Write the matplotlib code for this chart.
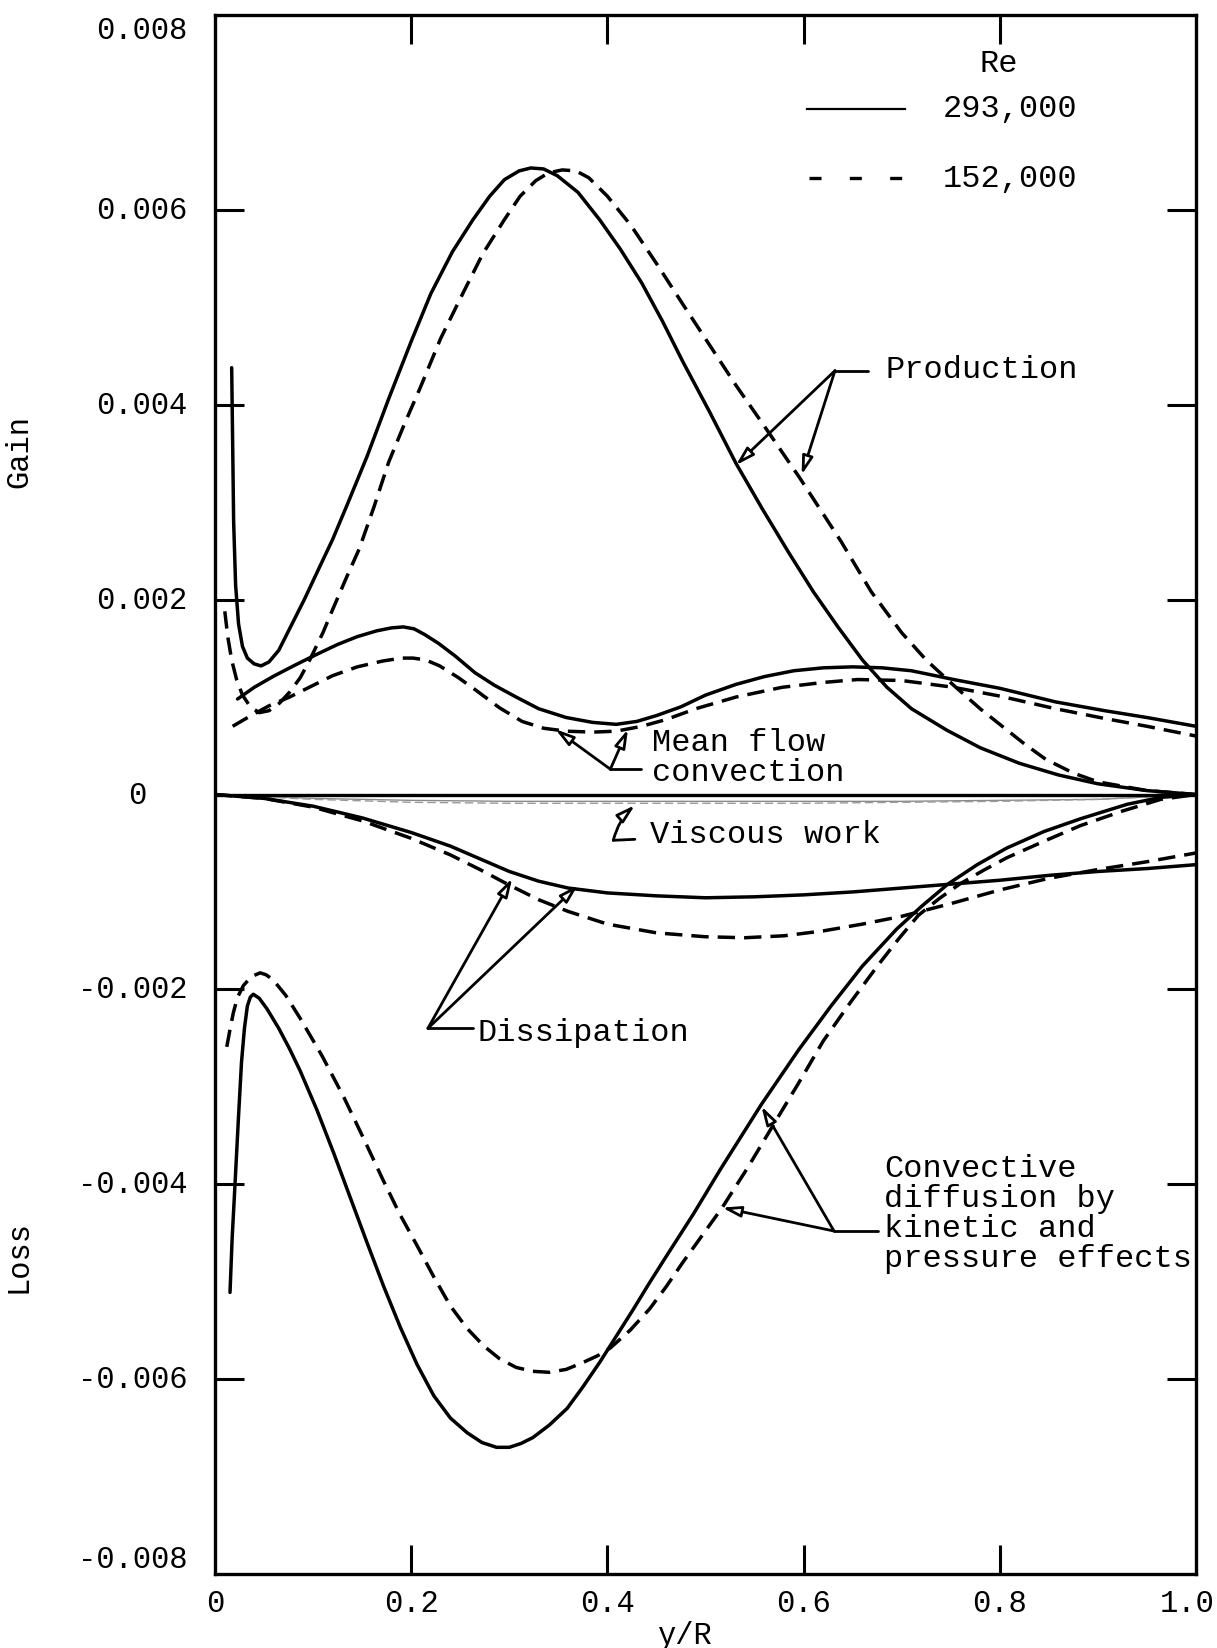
import matplotlib
matplotlib.use("Agg")
import matplotlib.pyplot as plt
import numpy as np
from matplotlib.transforms import blended_transform_factory

plt.rcParams['font.family'] = ['Liberation Mono', 'DejaVu Sans']

# ---------------- data (y values in units of 1e-3) ----------------
reynolds = ["293,000", "152,000"]

prod_293_x = [0.017, 0.018, 0.019, 0.021, 0.024, 0.028, 0.033, 0.040, 0.047, 0.055,
              0.065, 0.078, 0.091, 0.105, 0.120, 0.135, 0.155, 0.177, 0.200, 0.220,
              0.242, 0.263, 0.280, 0.295, 0.310, 0.322, 0.335, 0.349, 0.370, 0.392,
              0.413, 0.435, 0.456, 0.477, 0.504, 0.531, 0.558, 0.585, 0.610, 0.635,
              0.660, 0.685, 0.710, 0.746, 0.780, 0.820, 0.860, 0.900, 0.950, 1.000]
prod_293_y = [4.38, 3.60, 2.80, 2.15, 1.75, 1.52, 1.40, 1.34, 1.32, 1.36,
              1.48, 1.74, 2.00, 2.30, 2.62, 2.98, 3.47, 4.06, 4.65, 5.14,
              5.57, 5.90, 6.14, 6.31, 6.40, 6.43, 6.42, 6.35, 6.18, 5.90,
              5.60, 5.25, 4.86, 4.44, 3.93, 3.40, 2.93, 2.48, 2.08, 1.72,
              1.38, 1.10, 0.88, 0.66, 0.48, 0.32, 0.20, 0.11, 0.04, 0.00]

prod_152_x = [0.010, 0.013, 0.017, 0.022, 0.028, 0.036, 0.045, 0.055, 0.066, 0.076,
              0.087, 0.097, 0.110, 0.120, 0.135, 0.147, 0.162, 0.177, 0.193, 0.209,
              0.230, 0.252, 0.273, 0.295, 0.311, 0.327, 0.340, 0.354, 0.368, 0.381,
              0.400, 0.424, 0.450, 0.477, 0.505, 0.531, 0.560, 0.596, 0.638, 0.669,
              0.700, 0.725, 0.753, 0.780, 0.800, 0.825, 0.847, 0.875, 0.900, 0.950,
              1.000]
prod_152_y = [1.88, 1.62, 1.38, 1.18, 1.02, 0.90, 0.84, 0.86, 0.94, 1.05,
              1.20, 1.39, 1.66, 1.90, 2.25, 2.52, 2.95, 3.41, 3.80, 4.17,
              4.68, 5.13, 5.55, 5.90, 6.14, 6.30, 6.38, 6.41, 6.40, 6.33,
              6.14, 5.84, 5.45, 5.03, 4.60, 4.20, 3.78, 3.25, 2.60, 2.08,
              1.66, 1.38, 1.12, 0.88, 0.72, 0.52, 0.36, 0.22, 0.13, 0.04,
              0.00]

conv_293_x = [0.023, 0.040, 0.059, 0.080, 0.102, 0.125, 0.145, 0.165, 0.180, 0.192,
              0.203, 0.214, 0.228, 0.245, 0.265, 0.285, 0.307, 0.330, 0.358, 0.385,
              0.409, 0.430, 0.450, 0.475, 0.500, 0.531, 0.560, 0.590, 0.620, 0.650,
              0.680, 0.710, 0.753, 0.800, 0.857, 0.907, 0.950, 1.000]
conv_293_y = [0.98, 1.10, 1.21, 1.32, 1.43, 1.54, 1.62, 1.68, 1.71, 1.72,
              1.70, 1.64, 1.55, 1.42, 1.25, 1.12, 1.00, 0.88, 0.79, 0.74,
              0.72, 0.75, 0.81, 0.90, 1.02, 1.13, 1.21, 1.27, 1.30, 1.31,
              1.30, 1.27, 1.18, 1.09, 0.95, 0.86, 0.79, 0.70]

conv_152_x = [0.018, 0.035, 0.055, 0.076, 0.098, 0.120, 0.145, 0.171, 0.190, 0.202,
              0.215, 0.229, 0.248, 0.266, 0.290, 0.313, 0.335, 0.358, 0.385, 0.409,
              0.435, 0.460, 0.490, 0.531, 0.578, 0.620, 0.655, 0.700, 0.753, 0.800,
              0.857, 0.907, 0.950, 1.000]
conv_152_y = [0.70, 0.80, 0.91, 1.00, 1.11, 1.22, 1.31, 1.37, 1.40, 1.40,
              1.38, 1.32, 1.20, 1.07, 0.89, 0.75, 0.68, 0.65, 0.64, 0.65,
              0.70, 0.77, 0.88, 1.00, 1.10, 1.15, 1.18, 1.17, 1.10, 1.01,
              0.88, 0.78, 0.70, 0.60]

visc_x = [0.0, 0.1, 0.2, 0.3, 0.4, 0.5, 0.6, 0.7, 0.8, 0.9, 1.0]
visc_293_y = [0.0, -0.04, -0.06, -0.07, -0.07, -0.07, -0.07, -0.07, -0.06, -0.05, 0.0]
visc_152_y = [0.0, -0.05, -0.08, -0.09, -0.09, -0.09, -0.09, -0.08, -0.07, -0.05, 0.0]

diss_293_x = [0.0, 0.05, 0.10, 0.15, 0.20, 0.24, 0.27, 0.30, 0.33, 0.36,
              0.40, 0.45, 0.50, 0.55, 0.60, 0.65, 0.70, 0.75, 0.80, 0.85,
              0.90, 0.95, 1.0]
diss_293_y = [0.0, -0.04, -0.12, -0.24, -0.39, -0.53, -0.66, -0.79, -0.89, -0.96,
              -1.01, -1.04, -1.06, -1.05, -1.03, -1.00, -0.96, -0.92, -0.88, -0.83,
              -0.79, -0.76, -0.72]

diss_152_x = [0.0, 0.05, 0.10, 0.15, 0.20, 0.24, 0.27, 0.30, 0.33, 0.36,
              0.40, 0.45, 0.50, 0.54, 0.58, 0.62, 0.66, 0.70, 0.75, 0.80,
              0.85, 0.90, 0.95, 1.0]
diss_152_y = [0.0, -0.04, -0.13, -0.27, -0.45, -0.62, -0.77, -0.93, -1.08, -1.20,
              -1.33, -1.42, -1.46, -1.47, -1.45, -1.40, -1.33, -1.25, -1.12, -0.98,
              -0.86, -0.77, -0.69, -0.60]

cdiff_293_x = [0.0153, 0.0175, 0.0204, 0.024, 0.027, 0.030, 0.033, 0.036, 0.039, 0.045,
               0.053, 0.065, 0.076, 0.087, 0.104, 0.121, 0.138, 0.155, 0.172, 0.189,
               0.206, 0.223, 0.240, 0.257, 0.272, 0.287, 0.300, 0.312, 0.324, 0.341,
               0.359, 0.375, 0.392, 0.409, 0.426, 0.443, 0.460, 0.488, 0.515, 0.557,
               0.595, 0.628, 0.660, 0.695, 0.720, 0.747, 0.777, 0.807, 0.845, 0.882,
               0.930, 0.964, 1.000]
cdiff_293_y = [-5.11, -4.55, -4.00, -3.30, -2.75, -2.40, -2.17, -2.08, -2.05, -2.09,
               -2.20, -2.40, -2.61, -2.84, -3.24, -3.68, -4.14, -4.60, -5.05, -5.47,
               -5.85, -6.17, -6.40, -6.55, -6.65, -6.70, -6.70, -6.66, -6.60, -6.47,
               -6.30, -6.08, -5.83, -5.56, -5.29, -5.01, -4.74, -4.30, -3.85, -3.18,
               -2.62, -2.17, -1.76, -1.38, -1.15, -0.92, -0.72, -0.55, -0.38, -0.25,
               -0.10, -0.03, 0.00]

cdiff_152_x = [0.012, 0.0155, 0.0187, 0.023, 0.029, 0.037, 0.046, 0.052, 0.059, 0.072,
               0.087, 0.109, 0.131, 0.151, 0.171, 0.188, 0.206, 0.223, 0.240, 0.257,
               0.274, 0.290, 0.307, 0.324, 0.341, 0.358, 0.375, 0.390, 0.403, 0.423,
               0.443, 0.460, 0.477, 0.497, 0.517, 0.543, 0.568, 0.595, 0.620, 0.648,
               0.676, 0.697, 0.717, 0.738, 0.759, 0.783, 0.807, 0.845, 0.882, 0.925,
               0.964, 1.000]
cdiff_152_y = [-2.59, -2.40, -2.24, -2.08, -1.96, -1.87, -1.83, -1.85, -1.90, -2.06,
               -2.30, -2.68, -3.10, -3.52, -3.95, -4.30, -4.63, -4.95, -5.25, -5.48,
               -5.66, -5.79, -5.88, -5.92, -5.93, -5.90, -5.83, -5.76, -5.68, -5.50,
               -5.28, -5.05, -4.80, -4.52, -4.24, -3.83, -3.41, -2.96, -2.53, -2.13,
               -1.75, -1.48, -1.24, -1.07, -0.92, -0.78, -0.65, -0.48, -0.32, -0.17,
               -0.05, 0.00]

x_tick_vals = [0.0, 0.2, 0.4, 0.6, 0.8, 1.0]
x_tick_labels = ["0", "0.2", "0.4", "0.6", "0.8", "1.0"]
y_tick_vals = [0.008, 0.006, 0.004, 0.002, 0.0, -0.002, -0.004, -0.006, -0.008]
y_tick_labels = ["0.008", "0.006", "0.004", "0.002", "0", "-0.002", "-0.004", "-0.006", "-0.008"]

S = 1e-3

# ---------------- figure ----------------
W, H = 1217, 1649
fig = plt.figure(figsize=(W / 100, H / 100), dpi=100)
fig.patch.set_facecolor('white')
x0, x1, ytop, ybot = 215, 1196, 16, 1575
ax = fig.add_axes([x0 / W, 1 - ybot / H, (x1 - x0) / W, (ybot - ytop) / H])
ax.set_xlim(0, 1)
ax.set_ylim(-0.008, 0.008)

LW = 2.5
DASH = (0, (5.0, 2.6))
solid_kw = dict(color='black', lw=LW, solid_joinstyle='round', solid_capstyle='round')
dash_kw = dict(color='black', lw=LW, ls=DASH, dash_capstyle='butt', dash_joinstyle='round')

def sc(v):
    return np.asarray(v) * S

ax.axhline(0, color='black', lw=2.4, zorder=3)

ax.plot(visc_x, sc(visc_293_y), color='#8a8a8a', lw=1.0)
ax.plot(visc_x, sc(visc_152_y), color='#9a9a9a', lw=1.0, ls=(0, (6, 3)))

ax.plot(prod_293_x, sc(prod_293_y), **solid_kw)
ax.plot(prod_152_x, sc(prod_152_y), **dash_kw)
ax.plot(conv_293_x, sc(conv_293_y), **solid_kw)
ax.plot(conv_152_x, sc(conv_152_y), **dash_kw)
ax.plot(diss_293_x, sc(diss_293_y), **solid_kw)
ax.plot(diss_152_x, sc(diss_152_y), **dash_kw)
ax.plot(cdiff_293_x, sc(cdiff_293_y), **solid_kw)
ax.plot(cdiff_152_x, sc(cdiff_152_y), **dash_kw)

# ---------------- axes styling ----------------
for s in ax.spines.values():
    s.set_linewidth(2.4)
ax.set_xticks([0.2, 0.4, 0.6, 0.8])
ax.set_yticks([0.006, 0.004, 0.002, -0.002, -0.004, -0.006])
ax.tick_params(direction='in', length=21, width=2.2, top=True, right=True,
               labelbottom=False, labelleft=False)

FS_T = 22
FS_A = 23
ty = blended_transform_factory(ax.transAxes, ax.transData)
for v, lab in zip(y_tick_vals, y_tick_labels):
    if lab == "0":
        ax.text(-0.0795, v, lab, transform=ty, ha='center', va='center', fontsize=FS_T)
    else:
        va = 'center'
        if v == 0.008:
            va = 'top'
        elif v == -0.008:
            va = 'bottom'
        ax.text(-0.0285, v, lab, transform=ty, ha='right', va=va, fontsize=FS_T)

tx = blended_transform_factory(ax.transData, ax.transAxes)
for v, lab in zip(x_tick_vals, x_tick_labels):
    if v == 1.0:
        # right-most label sits flush with the page edge
        ax.text(v + 0.019, -0.0186, lab, transform=tx, ha='right', va='center',
                fontsize=FS_T, clip_on=False)
    else:
        ax.text(v, -0.0186, lab, transform=tx, ha='center', va='center', fontsize=FS_T,
                clip_on=False)

fig.text(684 / W, 1 - 1636 / H, "y/R", ha='center', va='center', fontsize=FS_T)
fig.text(19 / W, 1 - 452 / H, "Gain", ha='center', va='center', rotation=90, fontsize=FS_T)
fig.text(19 / W, 1 - 1257 / H, "Loss", ha='center', va='center', rotation=90, fontsize=FS_T)

# ---------------- legend ----------------
ax.text(0.799, 7.51 * S, "Re", ha='center', va='center', fontsize=FS_A)
ax.plot([0.603, 0.703], [7.04 * S, 7.04 * S], color='black', lw=1.6)
ax.plot([0.606, 0.703], [6.33 * S, 6.33 * S], color='black', lw=2.4, ls=(0, (3.6, 8.5)),
        dash_capstyle='butt')
ax.text(0.742, 7.05 * S, reynolds[0], ha='left', va='center', fontsize=FS_A)
ax.text(0.742, 6.33 * S, reynolds[1], ha='left', va='center', fontsize=FS_A)

# ---------------- annotations ----------------
ALW = 2.0
arrow_kw = dict(arrowstyle='-|>,head_length=0.55,head_width=0.16', lw=ALW, color='black',
                fc='white', shrinkA=0, shrinkB=0, mutation_scale=20)

def leader(knot, end, targets):
    ax.plot([knot[0], end[0]], [knot[1] * S, end[1] * S], color='black', lw=ALW,
            solid_capstyle='round')
    for t in targets:
        ax.annotate('', xy=(t[0], t[1] * S), xytext=(knot[0], knot[1] * S),
                    arrowprops=arrow_kw)

# Production
leader((0.632, 4.35), (0.666, 4.35), [(0.531, 3.38), (0.598, 3.28)])
ax.text(0.683, 4.37 * S, "Production", ha='left', va='center', fontsize=FS_A)

# Mean flow convection
leader((0.403, 0.26), (0.434, 0.26), [(0.347, 0.67), (0.421, 0.67)])
ax.text(0.445, 0.38 * S, "Mean flow\nconvection", ha='left', va='center', fontsize=FS_A,
        linespacing=1.0)

# Viscous work
ax.plot([0.406, 0.428], [-0.47 * S, -0.46 * S], color='black', lw=ALW, solid_capstyle='round')
ax.annotate('', xy=(0.428, -0.11 * S), xytext=(0.406, -0.47 * S),
            arrowprops=dict(arrow_kw, connectionstyle='arc3,rad=-0.15'))
ax.text(0.443, -0.41 * S, "Viscous work", ha='left', va='center', fontsize=FS_A)

# Dissipation
leader((0.217, -2.40), (0.263, -2.40), [(0.303, -0.86), (0.370, -0.93)])
ax.text(0.268, -2.44 * S, "Dissipation", ha='left', va='center', fontsize=FS_A)

# Convective diffusion
leader((0.631, -4.48), (0.676, -4.48), [(0.557, -3.20), (0.517, -4.24)])
ax.text(0.682, -4.29 * S, "Convective\ndiffusion by\nkinetic and\npressure effects",
        ha='left', va='center', fontsize=FS_A, linespacing=1.0)

fig.savefig("out.png", dpi=100, facecolor='white')
